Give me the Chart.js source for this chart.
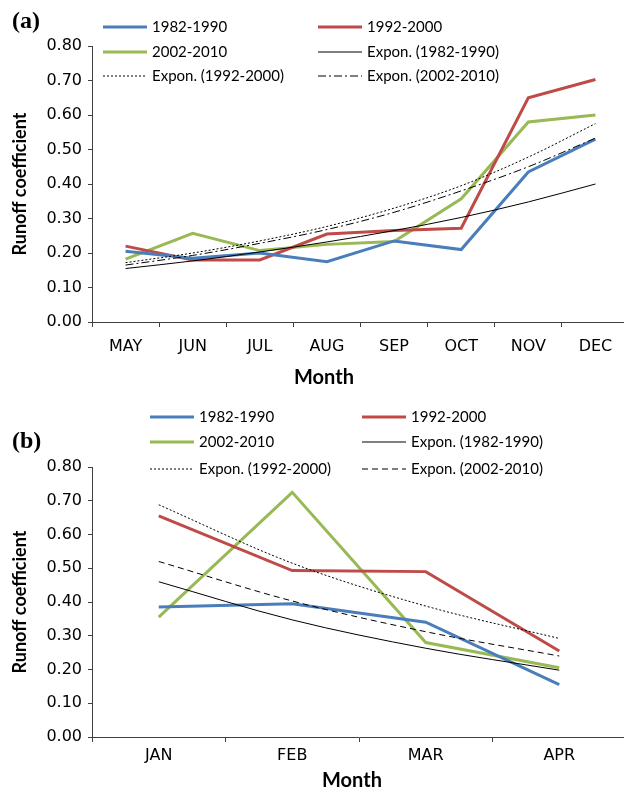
<!DOCTYPE html>
<html>
<head>
<meta charset="utf-8">
<style type="text/css">
  html, body { margin: 0; padding: 0; overflow: hidden; background: #fff; }
  .panel { position: relative; width: 624px; height: 396px; overflow: hidden; }
  canvas { display: block; }
</style>
</head>
<body>
<script src="https://cdn.jsdelivr.net/npm/chart.js@4.4.0/dist/chart.umd.min.js"></script>

<div class="panel"><canvas id="chartA" width="629" height="396"></canvas></div>
<div class="panel"><canvas id="chartB" width="626" height="396"></canvas></div>

<script>
/* data */
const seriesNames = ['1982-1990', '1992-2000', '2002-2010',
                     'Expon. (1982-1990)', 'Expon. (1992-2000)', 'Expon. (2002-2010)'];
const yTitle = 'Runoff coefficient';
const xTitle = 'Month';

// (a) May - Dec
const monthsA = ['MAY', 'JUN', 'JUL', 'AUG', 'SEP', 'OCT', 'NOV', 'DEC'];
const a1982 = [0.205, 0.185, 0.200, 0.175, 0.235, 0.210, 0.435, 0.530];
const a1992 = [0.220, 0.180, 0.180, 0.255, 0.265, 0.272, 0.650, 0.703];
const a2002 = [0.182, 0.257, 0.207, 0.225, 0.233, 0.357, 0.580, 0.600];
const aExp1982 = [0.155, 0.177, 0.203, 0.232, 0.265, 0.303, 0.348, 0.400];
const aExp1992 = [0.172, 0.200, 0.235, 0.277, 0.330, 0.395, 0.478, 0.575];
const aExp2002 = [0.165, 0.193, 0.228, 0.268, 0.318, 0.380, 0.450, 0.533];

// (b) Jan - Apr
const monthsB = ['JAN', 'FEB', 'MAR', 'APR'];
const b1982 = [0.385, 0.395, 0.340, 0.155];
const b1992 = [0.655, 0.493, 0.490, 0.255];
const b2002 = [0.355, 0.725, 0.280, 0.205];
const bExp1982 = [0.460, 0.347, 0.263, 0.198];
const bExp1992 = [0.688, 0.515, 0.388, 0.292];
const bExp2002 = [0.520, 0.403, 0.312, 0.240];

const yTicks = { min: 0, max: 0.8, step: 0.1 };

const AXIS = '#404040';
const BLUE = '#4A7EBB', RED = '#BE4B48', GREEN = '#98B954';

// legend, panel letter and x title drawn on the canvas
const panelDecor = {
  id: 'panelDecor',
  afterDraw(chart, args, opts) {
    const ctx = chart.ctx;
    ctx.save();
    ctx.fillStyle = '#000';
    ctx.textBaseline = 'middle';
    ctx.textAlign = 'left';
    ctx.font = 'bold 24px "Liberation Serif"';
    ctx.fillText(opts.letter, 12, opts.letterY);

    ctx.font = '15px Lato';
    chart.data.datasets.forEach((ds, i) => {
      const x = opts.cols[i % 2];
      const y = opts.rows[Math.floor(i / 2)];
      ctx.beginPath();
      ctx.setLineDash(ds.borderDash || []);
      ctx.strokeStyle = ds.borderColor;
      ctx.lineWidth = ds.borderWidth;
      ctx.moveTo(x, y);
      ctx.lineTo(x + opts.lineLen, y);
      ctx.stroke();
      ctx.setLineDash([]);
      ctx.fillText(ds.label, x + opts.lineLen + 5, y);
    });

    ctx.font = 'bold 20px Lato';
    ctx.textAlign = 'center';
    ctx.fillText(xTitle, opts.titleX, opts.titleY);
    ctx.restore();
  }
};

function makeSets(s1, s2, s3, t1, t2, t3, lastDash) {
  const main = (label, data, color) => ({
    label, data, borderColor: color, borderWidth: 3, pointRadius: 0, fill: false, order: 1
  });
  const trend = (label, data, dash) => ({
    label, data, borderColor: '#000', borderWidth: 1, borderDash: dash,
    pointRadius: 0, fill: false, cubicInterpolationMode: 'monotone', order: 0
  });
  return [
    main(seriesNames[0], s1, BLUE),
    main(seriesNames[1], s2, RED),
    main(seriesNames[2], s3, GREEN),
    trend(seriesNames[3], t1, []),
    trend(seriesNames[4], t2, [2, 2]),
    trend(seriesNames[5], t3, lastDash)
  ];
}

function makeScales(xHeight, tickPad) {
  return {
    x: {
      offset: true,
      grid: { display: true, offset: true, drawOnChartArea: false, tickLength: 5, color: AXIS },
      border: { display: true, color: AXIS, width: 1 },
      ticks: { color: '#000', font: { family: 'DejaVu Sans', size: 16 }, padding: tickPad,
               maxRotation: 0, autoSkip: false },
      afterFit: s => { s.height = xHeight; }
    },
    y: {
      min: yTicks.min,
      max: yTicks.max,
      grid: { drawOnChartArea: false, tickLength: 4, color: AXIS },
      border: { display: true, color: AXIS, width: 1 },
      ticks: { stepSize: yTicks.step, padding: 6, color: '#000',
               font: { family: 'DejaVu Sans', size: 16 },
               callback: v => v.toFixed(2) },
      title: { display: true, text: yTitle, color: '#000',
               font: { family: 'Lato', size: 18, weight: 'bold' },
               padding: { top: 9, bottom: 0 } },
      afterFit: s => { s.width = 92; }
    }
  };
}

function baseOptions(top, xHeight, tickPad, decor) {
  return {
    responsive: false,
    animation: false,
    layout: { padding: { top: top, left: 0, right: 0, bottom: 0 } },
    scales: makeScales(xHeight, tickPad),
    plugins: {
      legend: { display: false },
      tooltip: { enabled: false },
      panelDecor: decor
    }
  };
}

const chartA = new Chart('chartA', {
  type: 'line',
  data: {
    labels: monthsA,
    datasets: makeSets(a1982, a1992, a2002, aExp1982, aExp1992, aExp2002, [8, 3, 2, 3])
  },
  options: baseOptions(46, 74, 10, {
    letter: '(a)', letterY: 22, cols: [103, 318], rows: [27, 52, 76], lineLen: 44,
    titleX: 324, titleY: 378
  }),
  plugins: [panelDecor]
});

const chartB = new Chart('chartB', {
  type: 'line',
  data: {
    labels: monthsB,
    datasets: makeSets(b1982, b1992, b2002, bExp1982, bExp1992, bExp2002, [6, 4])
  },
  options: baseOptions(71, 55, 4, {
    letter: '(b)', letterY: 46, cols: [150, 362], rows: [21, 46, 73], lineLen: 44,
    titleX: 352, titleY: 385
  }),
  plugins: [panelDecor]
});
</script>
</body>
</html>
